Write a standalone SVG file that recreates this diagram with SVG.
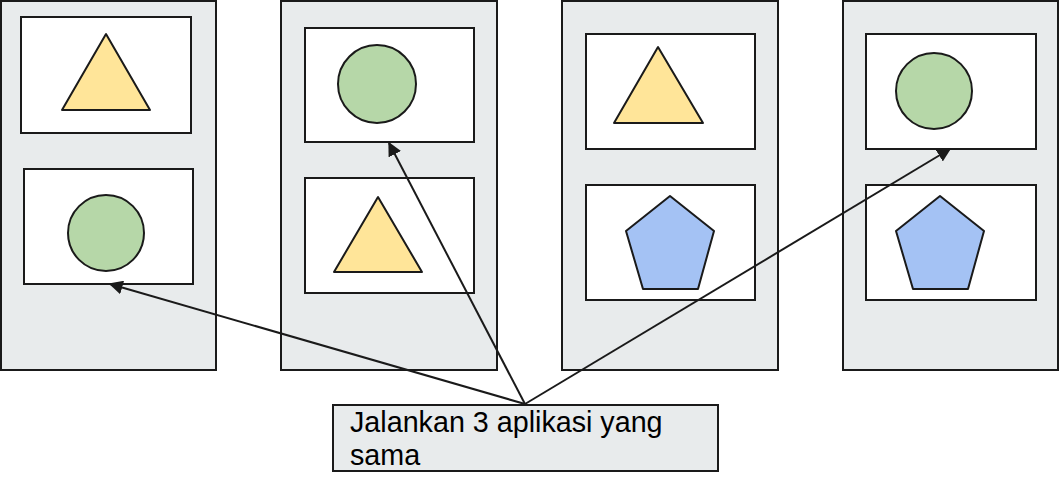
<svg xmlns="http://www.w3.org/2000/svg" width="1060" height="491" viewBox="0 0 1060 491">
<style>
.panel{fill:#e8ebec;stroke:#1a1a1a;stroke-width:2}
.screen{fill:#ffffff;stroke:#1a1a1a;stroke-width:2}
.tri{fill:#ffe599;stroke:#1a1a1a;stroke-width:2;stroke-linejoin:round}
.circ{fill:#b6d7a8;stroke:#1a1a1a;stroke-width:2}
.pent{fill:#a4c2f4;stroke:#1a1a1a;stroke-width:2;stroke-linejoin:round}
.conn{stroke:#1a1a1a;stroke-width:2;fill:none;marker-end:url(#arr)}
.label{font-family:"Liberation Sans",Arial,sans-serif;font-size:28.7px;fill:#000}
</style>
<defs>
<marker id="arr" viewBox="0 0 10 10" refX="9" refY="5" markerWidth="7" markerHeight="7" orient="auto" markerUnits="strokeWidth">
<path d="M0,0 L10,5 L0,10 z" fill="#1a1a1a"/>
</marker>
</defs>
<rect width="1060" height="491" fill="#ffffff"/>
<g id="phone1">
<rect class="panel" x="1" y="1" width="215" height="369"/>
<rect class="screen" x="21" y="17" width="170" height="116"/>
<polygon class="tri" points="106,34 62,110 150,110"/>
<rect class="screen" x="24" y="169" width="169" height="115"/>
<circle class="circ" cx="106" cy="233" r="38"/>
</g>
<g id="phone2">
<rect class="panel" x="281" y="1" width="216" height="369"/>
<rect class="screen" x="305" y="28" width="169" height="114"/>
<circle class="circ" cx="377" cy="84" r="39"/>
<rect class="screen" x="305" y="178" width="169" height="115"/>
<polygon class="tri" points="378,197 334,272 422,272"/>
</g>
<g id="phone3">
<rect class="panel" x="562" y="1" width="216" height="369"/>
<rect class="screen" x="586" y="34" width="169" height="115"/>
<polygon class="tri" points="658,47 614,123 703,123"/>
<rect class="screen" x="586" y="185" width="169" height="115"/>
<polygon class="pent" points="670,196 714,231 698,289 643,289 626,231"/>
</g>
<g id="phone4">
<rect class="panel" x="843" y="1" width="215" height="369"/>
<rect class="screen" x="866" y="34" width="170" height="115"/>
<circle class="circ" cx="934" cy="91" r="38"/>
<rect class="screen" x="866" y="185" width="170" height="115"/>
<polygon class="pent" points="940,196 984,231 968,289 913,289 896,231"/>
</g>
<g id="label">
<rect class="panel" x="333" y="405" width="385" height="66"/>
<text class="label" x="350" y="432">Jalankan 3 aplikasi yang</text>
<text class="label" x="350" y="465">sama</text>
</g>
<g id="connectors">
<line class="conn" x1="525" y1="404" x2="110" y2="284"/>
<line class="conn" x1="525" y1="404" x2="389" y2="143"/>
<line class="conn" x1="525" y1="404" x2="950" y2="149"/>
</g>
</svg>
